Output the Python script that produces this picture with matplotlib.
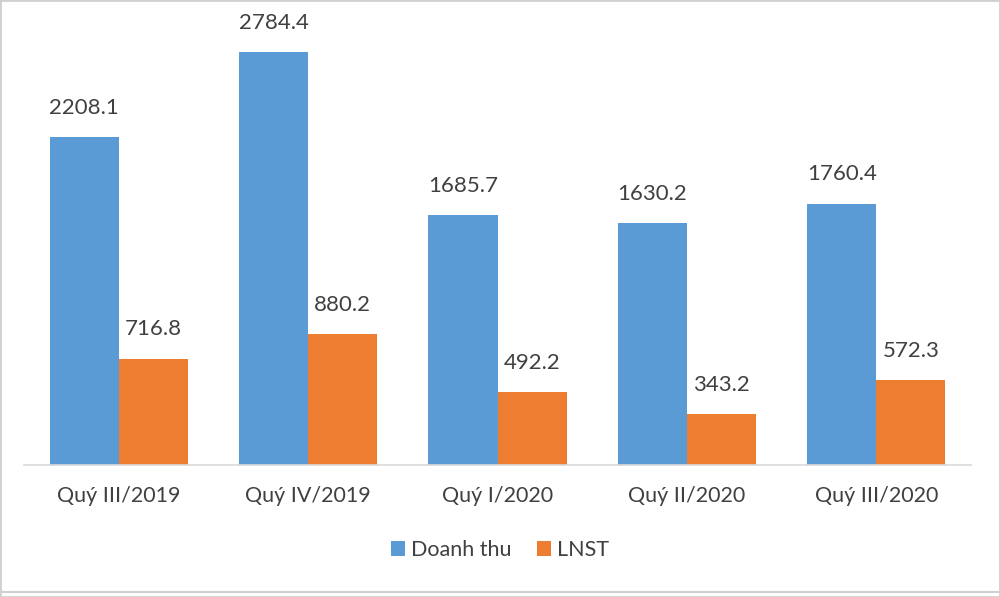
import matplotlib
matplotlib.use("Agg")
import matplotlib.pyplot as plt
import numpy as np
from matplotlib.patches import Rectangle

categories = ["Quý III/2019", "Quý IV/2019", "Quý I/2020", "Quý II/2020", "Quý III/2020"]
doanh_thu = [2208.1, 2784.4, 1685.7, 1630.2, 1760.4]
lnst = [716.8, 880.2, 492.2, 343.2, 572.3]
series_names = ["Doanh thu", "LNST"]

plt.rcParams['font.family'] = ['Lato', 'DejaVu Sans']
text_color = "#404040"
blue = "#5B9BD5"
orange = "#ED7D31"

fig = plt.figure(figsize=(10, 5.97), dpi=100)
ax = fig.add_axes([0.024, 1 - 465/597, 0.947, 465/597])

x = np.arange(len(categories))
w = 0.365
b1 = ax.bar(x - w/2, doanh_thu, w, color=blue, label=series_names[0])
b2 = ax.bar(x + w/2, lnst, w, color=orange, label=series_names[1])
for bars, vals in ((b1, doanh_thu), (b2, lnst)):
    for r, v in zip(bars, vals):
        ax.annotate(f"{v:.1f}", (r.get_x() + r.get_width()/2, v), xytext=(0, 14),
                    textcoords="offset points", ha="center", va="bottom",
                    fontsize=16, color=text_color)

ax.set_xlim(-0.5, len(categories) - 0.5)
ax.set_ylim(0, 3135)
ax.set_yticks([])
for s in ["top", "left", "right"]:
    ax.spines[s].set_visible(False)
ax.spines["bottom"].set_color("#D9D9D9")
ax.spines["bottom"].set_linewidth(1.2)
ax.set_xticks(x)
ax.set_xticklabels(categories, fontsize=15.5, color=text_color)
ax.tick_params(axis="x", length=0, pad=15)

leg = fig.legend(handles=[b1, b2], labels=series_names, loc="center",
                 bbox_to_anchor=(0.5, 1 - 550/597), ncol=2, frameon=False,
                 fontsize=15.5, handlelength=0.65, handleheight=0.65,
                 handletextpad=0.25, columnspacing=1.2)
for t in leg.get_texts():
    t.set_color(text_color)

fig.add_artist(Rectangle((0, 0), 1, 1, transform=fig.transFigure, fill=False,
                         edgecolor="#D0D0D0", linewidth=2))
fig.add_artist(plt.Line2D([0, 1], [1 - 592/597] * 2, transform=fig.transFigure,
                          color="#D0D0D0", linewidth=1.5))

fig.savefig("out.png", dpi=100)
